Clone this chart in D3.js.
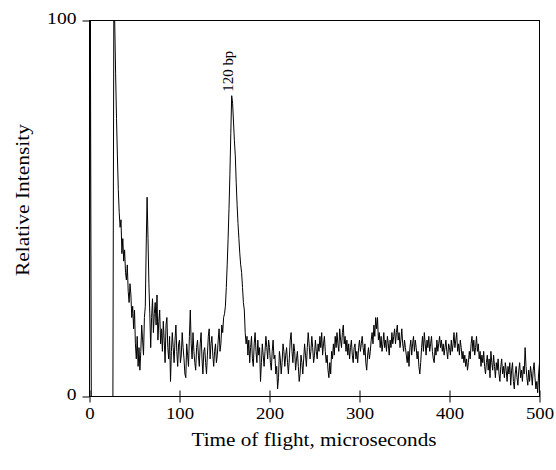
<!DOCTYPE html>
<html lang="en">
<head>
    <meta charset="UTF-8">
    <title>Time of flight spectrum</title>
    <script src="https://d3js.org/d3.v7.min.js"></script>
    <style>
        body {
            margin: 0;
            background: #fff;
        }
        text {
            font-family: "Liberation Serif", "Times New Roman", serif;
            fill: #000;
        }
    </style>
</head>
<body>
    <div id="chart"></div>
    <script>
        // Sampling interval of the trace, microseconds
        const sampleInterval = 1;

        // Relative intensity, one value per microsecond (0 .. 500 us)
        const intensity = [
            0, 100, 0, 0, 0, 0, 0, 0, 0, 0,
            0, 0, 0, 0, 0, 0, 0, 0, 0, 0,
            0, 0, 0, 0, 0, 0, 0, 100, 100, 86,
            74, 64, 55, 49, 45, 47, 38, 42, 36, 39,
            33, 31, 35, 28, 25, 30, 27, 21, 24, 18,
            23, 14, 10, 16, 8, 13, 7, 12, 19, 15,
            11, 21, 24, 40, 53, 42, 30, 22, 13, 21,
            26, 17, 22, 25, 19, 27, 15, 20, 23, 14,
            18, 12, 20, 15, 9, 19, 21, 13, 10, 16,
            4, 12, 17, 13, 9, 15, 19, 12, 8, 14,
            15, 9, 11, 17, 13, 10, 6, 5, 14, 11,
            8, 16, 23, 14, 10, 17, 12, 9, 7, 13,
            15, 11, 8, 14, 17, 10, 6, 12, 13, 9,
            6, 11, 16, 18, 10, 14, 16, 11, 8, 12,
            14, 9, 11, 15, 18, 12, 14, 19, 17, 21,
            22, 24, 29, 35, 42, 50, 59, 70, 80, 78,
            73, 68, 64, 57, 51, 46, 42, 38, 35, 33,
            29, 25, 23, 17, 14, 16, 11, 15, 9, 13,
            16, 10, 8, 14, 17, 12, 9, 15, 11, 13,
            4, 9, 14, 11, 8, 12, 16, 13, 10, 15,
            13, 9, 7, 12, 15, 10, 11, 6, 8, 2,
            5, 12, 10, 6, 9, 14, 12, 8, 11, 13,
            9, 6, 10, 15, 17, 12, 9, 14, 12, 7,
            10, 12, 8, 4, 6, 11, 9, 6, 10, 14,
            11, 8, 13, 17, 14, 10, 12, 16, 13, 9,
            11, 15, 12, 10, 14, 12, 16, 13, 17, 11,
            14, 16, 12, 9, 11, 7, 5, 9, 6, 12,
            10, 14, 11, 16, 13, 17, 14, 12, 18, 15,
            13, 17, 19, 14, 16, 12, 15, 11, 14, 10,
            13, 15, 11, 9, 13, 14, 10, 12, 9, 13,
            15, 12, 14, 16, 13, 11, 14, 9, 7, 11,
            13, 10, 12, 15, 17, 14, 19, 16, 21, 18,
            21, 15, 17, 13, 16, 12, 14, 17, 13, 15,
            12, 16, 14, 11, 15, 13, 17, 14, 16, 18,
            14, 17, 19, 15, 17, 13, 15, 18, 14, 12,
            15, 13, 11, 9, 12, 8, 13, 15, 11, 14,
            16, 12, 15, 13, 10, 12, 8, 6, 9, 13,
            16, 12, 17, 14, 11, 15, 13, 16, 12, 14,
            16, 12, 10, 9, 13, 11, 15, 12, 14, 16,
            13, 15, 12, 14, 11, 13, 15, 12, 10, 14,
            13, 11, 15, 12, 14, 17, 13, 15, 17, 12,
            14, 11, 15, 13, 10, 12, 9, 11, 8, 10,
            7, 9, 12, 10, 14, 16, 12, 15, 11, 13,
            16, 12, 14, 10, 12, 8, 11, 9, 12, 8,
            6, 9, 11, 7, 10, 5, 12, 9, 7, 11,
            8, 5, 9, 7, 10, 6, 4, 8, 10, 6,
            8, 5, 9, 7, 4, 8, 6, 9, 3, 7,
            9, 4, 2, 6, 8, 5, 3, 7, 9, 5,
            7, 4, 8, 6, 13, 8, 5, 3, 7, 4,
            8, 6, 3, 7, 9, 5, 2, 4, 1, 6,
            9
        ];

        const xTicks = [0, 100, 200, 300, 400, 500];
        const yTicks = [0, 100];

        // Peak annotation
        const peakTimes = [158];
        const peakValues = [80];
        const peakNames = ["120 bp"];

        const width = 556;
        const height = 470;

        const svg = d3.select("#chart")
            .append("svg")
            .attr("width", width)
            .attr("height", height);

        const x = d3.scaleLinear().domain([0, 500]).range([89.5, 539.5]);
        const y = d3.scaleLinear().domain([0, 100]).range([396.5, 20.5]);

        // Frame round the plot area
        svg.append("rect")
            .attr("x", x(0))
            .attr("y", y(100))
            .attr("width", x(500) - x(0))
            .attr("height", y(0) - y(100))
            .attr("fill", "none")
            .attr("stroke", "#000")
            .attr("stroke-width", 1);

        // Bottom axis, ticks cross the axis line
        const xAxis = svg.append("g")
            .attr("transform", `translate(0,${y(0)})`)
            .call(d3.axisBottom(x).tickValues(xTicks).tickSize(6).tickSizeOuter(0).tickFormat(d3.format("d")));
        xAxis.select(".domain").remove();
        xAxis.selectAll(".tick line").attr("y1", -6).attr("stroke", "#000");
        xAxis.selectAll(".tick text")
            .attr("y", 22)
            .attr("dy", 0)
            .attr("font-size", 17.5)
            .attr("textLength", d => String(d).length * 9.4)
            .attr("lengthAdjust", "spacingAndGlyphs");

        // Left axis, only 0 and 100
        const yAxis = svg.append("g")
            .attr("transform", `translate(${x(0)},0)`)
            .call(d3.axisLeft(y).tickValues(yTicks).tickSize(7).tickSizeOuter(0));
        yAxis.select(".domain").remove();
        yAxis.selectAll(".tick line").attr("stroke", "#000");
        yAxis.selectAll(".tick text")
            .attr("x", -13)
            .attr("dy", 0)
            .attr("y", 3)
            .attr("font-size", 17.5)
            .attr("textLength", d => String(d).length * 9.8)
            .attr("lengthAdjust", "spacingAndGlyphs");

        // The trace
        const line = d3.line()
            .x((d, i) => x(i * sampleInterval))
            .y(d => y(d));

        svg.append("path")
            .datum(intensity)
            .attr("d", line)
            .attr("fill", "none")
            .attr("stroke", "#000")
            .attr("stroke-width", 1)
            .attr("stroke-linejoin", "round");

        // Peak label, written upwards from the top of the peak
        svg.append("g")
            .selectAll("text")
            .data(peakNames)
            .enter()
            .append("text")
            .attr("transform", (d, i) => `translate(${x(peakTimes[i]) + 1.5},${y(peakValues[i]) - 4}) rotate(-90)`)
            .attr("font-size", 14)
            .attr("textLength", 41)
            .attr("lengthAdjust", "spacingAndGlyphs")
            .text(d => d);

        // Axis titles
        svg.append("text")
            .attr("x", 314)
            .attr("y", 446)
            .attr("text-anchor", "middle")
            .attr("font-size", 19)
            .attr("textLength", 245)
            .attr("lengthAdjust", "spacingAndGlyphs")
            .text("Time of flight, microseconds");

        svg.append("text")
            .attr("transform", "translate(29,200) rotate(-90)")
            .attr("text-anchor", "middle")
            .attr("font-size", 19)
            .attr("textLength", 152)
            .attr("lengthAdjust", "spacingAndGlyphs")
            .text("Relative Intensity");
    </script>
</body>
</html>
